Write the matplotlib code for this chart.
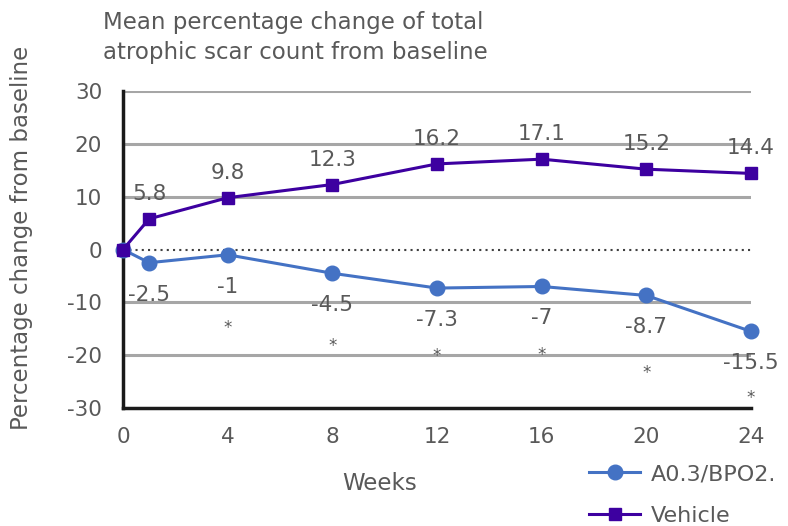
import matplotlib
matplotlib.use("Agg")
import matplotlib.pyplot as plt

weeks = [0, 1, 4, 8, 12, 16, 20, 24]
a03_bpo = [0, -2.5, -1, -4.5, -7.3, -7, -8.7, -15.5]
vehicle = [0, 5.8, 9.8, 12.3, 16.2, 17.1, 15.2, 14.4]
vehicle_labels = ["", "5.8", "9.8", "12.3", "16.2", "17.1", "15.2", "14.4"]
a03_labels = ["", "-2.5", "-1", "-4.5", "-7.3", "-7", "-8.7", "-15.5"]
star_weeks = [4, 8, 12, 16, 20, 24]
star_y = [-14.0, -17.4, -19.3, -19.1, -22.5, -27.3]
xticks = [0, 4, 8, 12, 16, 20, 24]
yticks = [-30, -20, -10, 0, 10, 20, 30]

plt.rcParams['font.family'] = ['DejaVu Sans']
plt.rcParams['axes.unicode_minus'] = False
grey = '#595959'
blue = '#4472C4'
purple = '#3D00A0'
fs = 15.5

W, H = 788, 526
fig = plt.figure(figsize=(W/100, H/100), dpi=100)
ax = fig.add_axes([123/W, 1-408/H, (751-123)/W, (408-91)/H])
ax.set_xlim(0, 24)
ax.set_ylim(-30, 30)

for y in [10, 20, 30, -10, -20]:
    ax.axhline(y, color='#a6a6a6', lw=2.2, zorder=1)
ax.axhline(0, color='#404040', lw=1.5, ls=(0, (1, 2)), zorder=1)

ax.plot(weeks, a03_bpo, color=blue, lw=2.2, marker='o', ms=10.5, label='A0.3/BPO2.', zorder=3, clip_on=False)
ax.plot(weeks, vehicle, color=purple, lw=2.2, marker='s', ms=9, label='Vehicle', zorder=4, clip_on=False)

for w, v, t in zip(weeks, vehicle, vehicle_labels):
    if t:
        ax.annotate(t, (w, v), xytext=(0, 18), textcoords='offset points',
                    ha='center', va='center', fontsize=fs, color=grey)
for w, v, t in zip(weeks, a03_bpo, a03_labels):
    if t:
        ax.annotate(t, (w, v), xytext=(0, -23), textcoords='offset points',
                    ha='center', va='center', fontsize=fs, color=grey)
for w, y in zip(star_weeks, star_y):
    ax.annotate('*', (w, y), xytext=(0, -7), textcoords='offset points',
                ha='center', va='baseline', fontsize=12, color=grey)

for s in ['top', 'right']:
    ax.spines[s].set_visible(False)
ax.spines['left'].set_linewidth(2.5)
ax.spines['left'].set_color('#1a1a1a')
ax.spines['bottom'].set_linewidth(2.5)
ax.spines['bottom'].set_color('#1a1a1a')
ax.set_xticks(xticks)
ax.set_yticks(yticks)
ax.tick_params(length=0, labelsize=15.5, labelcolor=grey)
ax.tick_params(axis='y', pad=15)
ax.tick_params(axis='x', pad=14)

fig.text(380/W, 1-484/H, 'Weeks', ha='center', va='center', fontsize=16.5, color=grey)
fig.text(22/W, 1-238/H, 'Percentage change from baseline', rotation=90,
         ha='center', va='center', fontsize=16.5, color=grey)

fig.text(103/W, 1-22/H, 'Mean percentage change of total', ha='left', va='center',
         fontsize=16.5, color=grey)
fig.text(103/W, 1-52/H, 'atrophic scar count from baseline', ha='left', va='center',
         fontsize=16.5, color=grey)

leg = ax.legend(loc='upper left', bbox_to_anchor=(589/W, 1-464/H), bbox_transform=fig.transFigure,
                frameon=False, fontsize=16, labelcolor=grey, handlelength=2.3,
                handletextpad=0.5, labelspacing=1.0, borderaxespad=0, borderpad=0)

fig.savefig('out.png', dpi=100)
